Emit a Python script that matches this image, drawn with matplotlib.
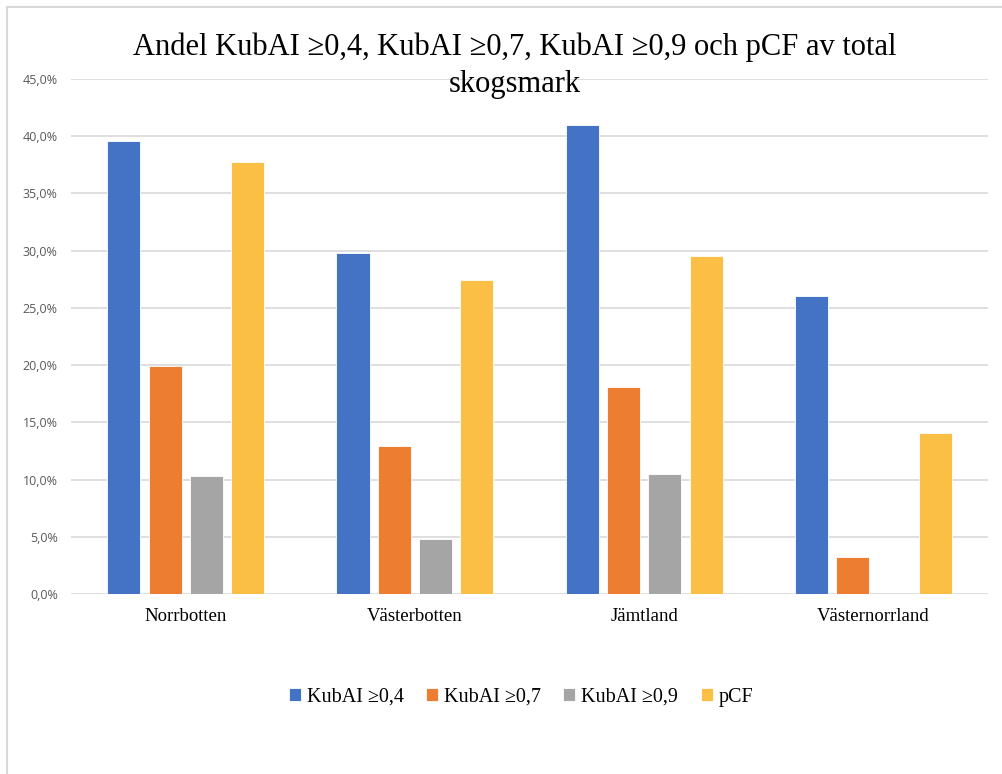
import matplotlib.pyplot as plt
import numpy as np
from matplotlib.ticker import FuncFormatter

# data (percent)
lan = ['Norrbotten', 'Västerbotten', 'Jämtland', 'Västernorrland']
serier = ['KubAI ≥0,4', 'KubAI ≥0,7', 'KubAI ≥0,9', 'pCF']
kubai_04 = [39.6, 29.8, 41.0, 26.0]
kubai_07 = [19.9, 12.9, 18.1, 3.2]
kubai_09 = [10.3, 4.8, 10.5, 0.0]
pcf = [37.7, 27.4, 29.5, 14.1]
farger = ['#4472c4', '#ed7d31', '#a5a5a5', '#fbbf45']

fig = plt.figure(figsize=(10.02, 7.74), dpi=100)
ax = fig.add_axes([0.0709, 0.2326, 0.9151, 0.6654])

x = np.arange(len(lan))
bredd = 0.144
steg = 0.18
for i, (namn, vals) in enumerate(zip(serier, [kubai_04, kubai_07, kubai_09, pcf])):
    ax.bar(x + (i - 1.5) * steg, vals, bredd, color=farger[i], label=namn,
           edgecolor='white', linewidth=0.6, zorder=3)

ax.set_xlim(-0.5, 3.5)
ax.set_ylim(0, 45)
ax.set_yticks(np.arange(0, 46, 5))
ax.yaxis.set_major_formatter(FuncFormatter(lambda v, p: f'{v:.1f}%'.replace('.', ',')))
ax.grid(axis='y', color='#d9d9d9', linewidth=1.2, zorder=0)
for s in ax.spines.values():
    s.set_visible(False)
ax.tick_params(length=0)
ax.tick_params(axis='y', labelsize=9, labelcolor='#595959', pad=9.5)
ax.set_xticks(x)
ax.set_xticklabels(lan, fontfamily='Liberation Serif', fontsize=13.5)
ax.tick_params(axis='x', pad=10)
for lab in ax.get_yticklabels():
    lab.set_fontfamily('Open Sans')

fig.text(0.514, 0.915, 'Andel KubAI ≥0,4, KubAI ≥0,7, KubAI ≥0,9 och pCF av total\nskogsmark',
         ha='center', va='center', fontfamily='Liberation Serif', fontsize=22,
         linespacing=1.4)

leg = fig.legend(loc='center', bbox_to_anchor=(0.52, 0.099), ncol=4, frameon=False,
                 prop={'family': 'Liberation Serif', 'size': 14.5},
                 handlelength=0.6, handleheight=0.6, handletextpad=0.3, columnspacing=1.1)

# chart frame lines (top and left)
fig.add_artist(plt.Line2D([0.007, 1.0], [0.991, 0.991], color='#d9d9d9', linewidth=1.5))
fig.add_artist(plt.Line2D([0.007, 0.007], [0.0, 0.991], color='#d9d9d9', linewidth=1.5))

fig.savefig('out.png', dpi=100)
